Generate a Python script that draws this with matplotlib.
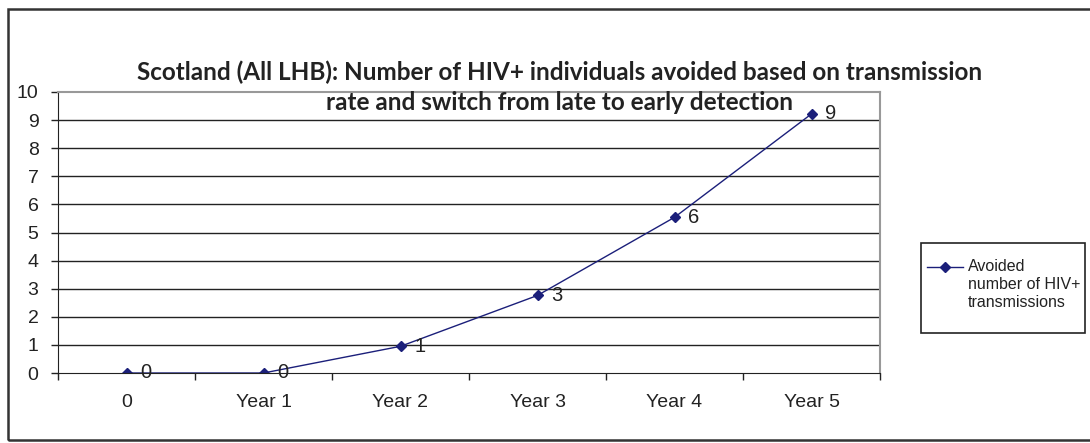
import matplotlib.pyplot as plt
from matplotlib.patches import Rectangle
from matplotlib.lines import Line2D

# chart data
categories = ['0', 'Year 1', 'Year 2', 'Year 3', 'Year 4', 'Year 5']
avoided = [0, 0, 0.95, 2.76, 5.54, 9.22]
point_labels = ['0', '0', '1', '3', '6', '9']
series_name = 'Avoided\nnumber of HIV+\ntransmissions'
title = ('Scotland (All LHB): Number of HIV+ individuals avoided based on transmission\n'
         'rate and switch from late to early detection')

navy = '#1b1f7a'
W, H = 1090, 443

plt.rcParams['font.family'] = ['Liberation Sans', 'DejaVu Sans']

fig = plt.figure(figsize=(W / 100, H / 100), dpi=100)
ax = fig.add_axes([58 / W, 1 - 373 / H, 822 / W, 281 / H])

x = list(range(len(categories)))
ax.plot(x, avoided, color=navy, lw=1.0, marker='D', ms=5, mfc=navy, mec=navy)
for xi, yi, lab in zip(x, avoided, point_labels):
    ax.annotate(lab, (xi, yi), xytext=(10, 0), textcoords='offset points',
                ha='left', va='center', fontsize=14.5, color='#222222')

ax.set_xlim(-0.5, len(categories) - 0.5)
ax.set_ylim(0, 10)
ax.set_yticks(range(0, 11))
ax.set_yticklabels([str(v) for v in range(0, 11)], fontsize=14, color='#222222')
ax.set_xticks(x)
ax.set_xticklabels(categories, fontsize=14, color='#222222')
ax.set_xticks([i - 0.5 for i in range(len(categories) + 1)], minor=True)
ax.tick_params(axis='x', which='major', length=0, pad=15)
ax.tick_params(axis='x', which='minor', length=5, width=1, color='#222222')
ax.tick_params(axis='y', length=5, width=1, color='#222222', pad=9)

for v in range(1, 10):
    ax.axhline(v, color='#222222', lw=1.0, zorder=0)

ax.spines['left'].set_color('#222222')
ax.spines['bottom'].set_color('#222222')
ax.spines['top'].set_color('#999999')
ax.spines['right'].set_color('#999999')
ax.spines['top'].set_linewidth(1.5)
ax.spines['right'].set_linewidth(1.5)

fig.text(560 / W, 1 - 87 / H, title, ha='center', va='center',
         fontsize=17.5, fontweight='bold', family=['Lato', 'DejaVu Sans'],
         color='#222222', linespacing=1.35)

# legend box drawn by hand (Excel style: marker beside first text line)
fig.patches.append(Rectangle((921 / W, 1 - 333 / H), 164 / W, 90 / H,
                             transform=fig.transFigure, fill=False,
                             edgecolor='#222222', lw=1.2))
fig.add_artist(Line2D([927 / W, 963 / W], [1 - 267 / H, 1 - 267 / H],
                      transform=fig.transFigure, color=navy, lw=1.0))
fig.add_artist(Line2D([945 / W], [1 - 267 / H], transform=fig.transFigure,
                      color=navy, marker='D', ms=5, mfc=navy, mec=navy))
fig.text(968 / W, 1 - 259 / H, series_name, ha='left', va='top',
         fontsize=11.5, color='#222222', linespacing=1.25)

fig.patches.append(Rectangle((8 / W, 1 - 440 / H), 1.1, 431 / H,
                             transform=fig.transFigure, fill=False,
                             edgecolor='#333333', lw=1.8))

fig.savefig('out.png', dpi=100)
